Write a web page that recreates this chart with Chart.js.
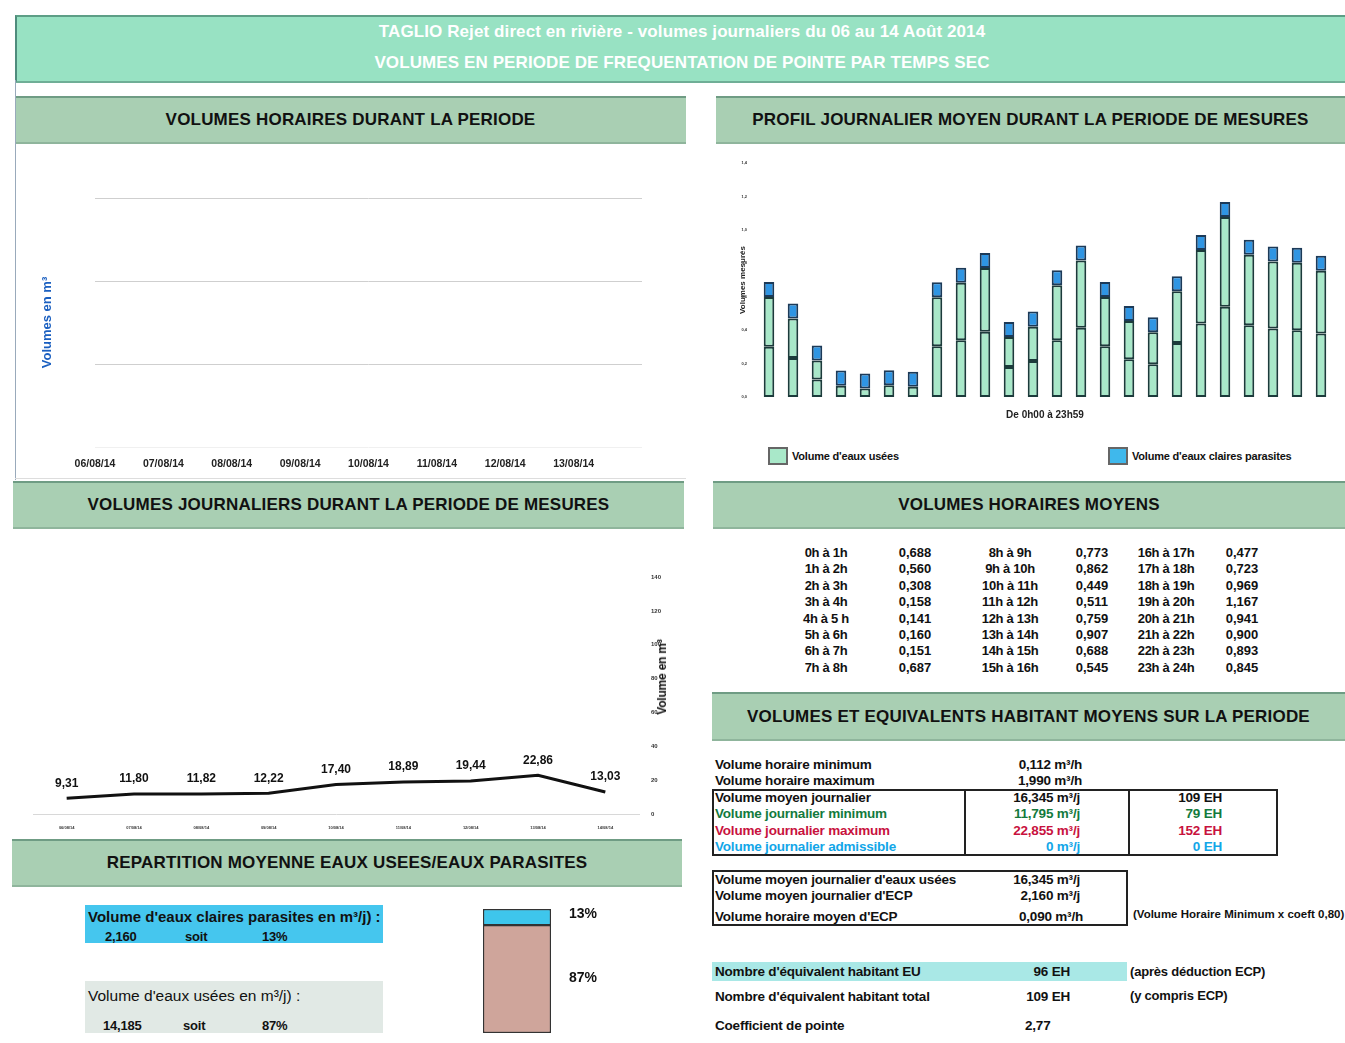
<!DOCTYPE html>
<html>
<head>
<meta charset="utf-8">
<script src="https://cdn.jsdelivr.net/npm/chart.js@4.4.0/dist/chart.umd.min.js"></script>
<style>
  body { margin: 0; width: 1345px; height: 1043px; position: relative; overflow: hidden; background: #fff;
         font-family: "Liberation Sans", Arial, sans-serif; color: #111; }
  .abs { position: absolute; }
  .banner { left: 15px; top: 15px; width: 1330px; height: 64px; background: #98e2c3;
            border-top: 2px solid #5d9e86; border-left: 2px solid #4f8c7c; border-bottom: 2px solid #6fae96; }
  .banner div { position: absolute; left: 0; width: 100%; text-align: center; color: #fff;
                font-weight: bold; font-size: 17px; letter-spacing: 0.1px; }
  .head { background: #a9cfb3; border-top: 2px solid #6f9c84; border-bottom: 2px solid #8fb59c;
          font-weight: bold; font-size: 17px; letter-spacing: 0.2px; text-align: center; color: #111; }
  .t { position: absolute; white-space: nowrap; font-weight: bold; font-size: 13.5px; letter-spacing: -0.2px;
       transform: translateY(-50%); }
  .tr { transform: translate(-100%, -50%); }
  .tc { transform: translate(-50%, -50%); }
  .box { position: absolute; border: 2px solid #222; box-sizing: border-box; }
  canvas { position: absolute; }
</style>
</head>
<body>
<div class="abs banner">
  <div style="top:5px">TAGLIO Rejet direct en rivière - volumes journaliers du 06 au 14 Août 2014</div>
  <div style="top:36px">VOLUMES EN PERIODE DE FREQUENTATION DE POINTE PAR TEMPS SEC</div>
</div>

<div class="abs head" style="left:15px;top:96px;width:671px;height:44px;line-height:44px">VOLUMES HORAIRES DURANT LA PERIODE</div>
<div class="abs head" style="left:716px;top:96px;width:629px;height:44px;line-height:44px">PROFIL JOURNALIER MOYEN DURANT LA PERIODE DE MESURES</div>
<div class="abs head" style="left:13px;top:481px;width:671px;height:44px;line-height:44px">VOLUMES JOURNALIERS DURANT LA PERIODE DE MESURES</div>
<div class="abs head" style="left:713px;top:481px;width:632px;height:44px;line-height:44px">VOLUMES HORAIRES MOYENS</div>
<div class="abs head" style="left:712px;top:692px;width:633px;height:45px;line-height:45px">VOLUMES ET EQUIVALENTS HABITANT MOYENS SUR LA PERIODE</div>
<div class="abs head" style="left:12px;top:839px;width:670px;height:44px;line-height:44px">REPARTITION MOYENNE EAUX USEES/EAUX PARASITES</div>

<div class="abs" style="left:15px;top:80px;width:1px;height:400px;background:#9ab"></div>
<div class="abs" style="left:15px;top:478px;width:671px;height:1px;background:#ddd"></div>

<canvas id="chartHoraire" style="left:20px;top:150px" width="660" height="325"></canvas>
<canvas id="chartProfil" style="left:725px;top:150px" width="620" height="280"></canvas>
<canvas id="chartJournalier" style="left:20px;top:550px" width="660" height="280"></canvas>
<canvas id="chartRepartition" style="left:475px;top:900px" width="160" height="140"></canvas>

<div id="legendProfil"></div>
<div id="tableHoraire"></div>
<div id="equivalents"></div>
<div id="repartition"></div>

<script>
// Profil journalier moyen (m3/h)
const heures = ["0h à 1h", "1h à 2h", "2h à 3h", "3h à 4h", "4h à 5 h", "5h à 6h", "6h à 7h", "7h à 8h",
  "8h à 9h", "9h à 10h", "10h à 11h", "11h à 12h", "12h à 13h", "13h à 14h", "14h à 15h", "15h à 16h",
  "16h à 17h", "17h à 18h", "18h à 19h", "19h à 20h", "20h à 21h", "21h à 22h", "22h à 23h", "23h à 24h"];
const volumeHoraireMoyen = [0.688, 0.560, 0.308, 0.158, 0.141, 0.160, 0.151, 0.687,
  0.773, 0.862, 0.449, 0.511, 0.759, 0.907, 0.688, 0.545,
  0.477, 0.723, 0.969, 1.167, 0.941, 0.900, 0.893, 0.845];
const eauxUseesBas = [0.300, 0.234, 0.104, 0.068, 0.051, 0.070, 0.061, 0.303,
  0.340, 0.390, 0.180, 0.216, 0.340, 0.415, 0.303, 0.226,
  0.196, 0.323, 0.440, 0.540, 0.430, 0.410, 0.400, 0.380];
const eauxUseesHaut = [0.298, 0.236, 0.114, 0, 0, 0, 0, 0.294,
  0.343, 0.382, 0.179, 0.205, 0.329, 0.402, 0.295, 0.229,
  0.191, 0.310, 0.439, 0.537, 0.421, 0.400, 0.403, 0.375];
const eauxClairesParasites = [0.09, 0.09, 0.09, 0.09, 0.09, 0.09, 0.09, 0.09,
  0.09, 0.09, 0.09, 0.09, 0.09, 0.09, 0.09, 0.09,
  0.09, 0.09, 0.09, 0.09, 0.09, 0.09, 0.09, 0.09];

// Volumes horaires (aucune courbe visible)
const datesHoraires = ["06/08/14", "07/08/14", "08/08/14", "09/08/14", "10/08/14", "11/08/14", "12/08/14", "13/08/14"];
const volumesHoraires = [];

// Volumes journaliers (m3/j)
const datesJournalieres = ["06/08/14", "07/08/14", "08/08/14", "09/08/14", "10/08/14", "11/08/14", "12/08/14", "13/08/14", "14/08/14"];
const volumesJournaliers = [9.31, 11.80, 11.82, 12.22, 17.40, 18.89, 19.44, 22.86, 13.03];

// Repartition eaux usees / eaux claires parasites
const repartitionLabels = ["Volume d'eaux usées", "Volume d'eaux claires parasites"];
const repartitionVolumes = [14.185, 2.160];
const repartitionPct = [87, 13];

const virgule = (v, d) => v.toFixed(d).replace(".", ",");

function txt(parent, x, y, s, extra, cls) {
  const el = document.createElement("div");
  el.className = "t " + (cls || "");
  el.style.left = x + "px";
  el.style.top = y + "px";
  if (extra) el.style.cssText += extra;
  el.innerHTML = s;
  parent.appendChild(el);
  return el;
}

// ---- Volumes horaires durant la periode ----
new Chart(document.getElementById("chartHoraire"), {
  type: "line",
  data: { datasets: [{ label: "Volumes horaires", data: volumesHoraires, borderColor: "#222" }] },
  options: {
    responsive: false, animation: false,
    layout: { padding: { left: 20, top: 48, right: 38, bottom: 0 } },
    plugins: { legend: { display: false }, tooltip: { enabled: false } },
    scales: {
      x: {
        type: "linear", min: 0, max: 8,
        ticks: { stepSize: 1, color: "#222", font: { size: 10.5, weight: "bold" }, padding: 3, maxRotation: 0,
                 callback: (v) => datesHoraires[v] || "" },
        grid: { display: false }, border: { display: false },
        afterFit: (s) => { s.height = 28; }
      },
      y: {
        min: 0, max: 3,
        ticks: { stepSize: 1, display: false },
        grid: { color: (c) => (c.tick.value === 0 ? "#f0f0f0" : "#cfcfcf"), drawTicks: false },
        border: { display: false },
        title: { display: true, text: "Volumes en m³", color: "#1a5fc0", font: { size: 13, weight: "bold" }, padding: 0 },
        afterFit: (s) => { s.width = 55; }
      }
    }
  }
});

// ---- Profil journalier moyen ----
const couleurEU = "#a9e8c9";
const couleurECP = "#2f95e3";
new Chart(document.getElementById("chartProfil"), {
  type: "bar",
  data: {
    labels: heures,
    datasets: [
      { label: "Volume d'eaux usées", data: eauxUseesBas, backgroundColor: couleurEU, borderColor: "#1c3b3b", borderWidth: 2, borderSkipped: false },
      { label: "Volume d'eaux usées ", data: eauxUseesHaut, backgroundColor: couleurEU, borderColor: "#1c3b3b", borderWidth: 2, borderSkipped: false },
      { label: "Volume d'eaux claires parasites", data: eauxClairesParasites, backgroundColor: couleurECP, borderColor: "#1c3a58", borderWidth: 2, borderSkipped: false }
    ]
  },
  options: {
    responsive: false, animation: false,
    barPercentage: 0.44, categoryPercentage: 1,
    layout: { padding: { left: 12, top: 13, right: 12, bottom: 0 } },
    plugins: { legend: { display: false }, tooltip: { enabled: false } },
    scales: {
      x: {
        stacked: true,
        ticks: { display: false }, grid: { display: false }, border: { display: false },
        title: { display: true, text: "De 0h00 à 23h59", color: "#222", font: { size: 10, weight: "bold" }, padding: { top: 4, bottom: 9 } },
        afterFit: (s) => { s.height = 33; }
      },
      y: {
        stacked: true, min: 0, max: 1.4,
        ticks: { stepSize: 0.2, color: "#333", font: { size: 4, weight: "bold" }, padding: 2, callback: (v) => virgule(v, 1) },
        grid: { display: false }, border: { display: false },
        title: { display: true, text: "Volumes mesurés", color: "#222", font: { size: 8, weight: "bold" }, padding: 1 },
        afterFit: (s) => { s.width = 20; }
      }
    }
  }
});

// legende du profil
const leg = document.getElementById("legendProfil");
[[768, couleurEU, repartitionLabels[0]], [1108, "#3fb8ec", repartitionLabels[1]]].forEach(([x, c, l]) => {
  const b = document.createElement("div");
  b.className = "abs";
  b.style.cssText = "left:" + x + "px;top:447px;width:16px;height:14px;background:" + c + ";border:2px solid #666;";
  leg.appendChild(b);
  txt(leg, x + 24, 456, l, "font-size:11px;");
});

// ---- Volumes journaliers ----
const etiquettes = {
  id: "etiquettes",
  afterDatasetsDraw(chart) {
    const ctx = chart.ctx;
    const meta = chart.getDatasetMeta(0);
    ctx.save();
    ctx.font = "bold 12px 'Liberation Sans', Arial";
    ctx.fillStyle = "#111";
    ctx.textAlign = "center";
    ctx.textBaseline = "middle";
    meta.data.forEach((p, i) => ctx.fillText(virgule(volumesJournaliers[i], 2), p.x, p.y - 15));
    ctx.restore();
  }
};
new Chart(document.getElementById("chartJournalier"), {
  type: "line",
  data: {
    labels: datesJournalieres,
    datasets: [{ label: "Volume journalier", data: volumesJournaliers, borderColor: "#111", borderWidth: 3, pointRadius: 0, tension: 0 }]
  },
  options: {
    responsive: false, animation: false,
    layout: { padding: { left: 13, top: 27, right: 19, bottom: 0 } },
    plugins: { legend: { display: false }, tooltip: { enabled: false } },
    scales: {
      x: {
        offset: true,
        ticks: { color: "#333", font: { size: 4, weight: "bold" }, padding: 3, maxRotation: 0 },
        grid: { display: false, offset: true }, border: { color: "#d8d8d8" },
        afterFit: (s) => { s.height = 16; }
      },
      y: {
        position: "right", min: 0, max: 140,
        ticks: { stepSize: 20, color: "#333", font: { size: 6, weight: "bold" }, padding: 4 },
        grid: { display: false }, border: { display: false },
        afterFit: (s) => { s.width = 22; }
      }
    }
  },
  plugins: [etiquettes]
});
txt(document.body, 662, 677, "Volume en m³", "font-size:12px;transform:translate(-50%,-50%) rotate(-90deg);");

// ---- Repartition ----
const pctLabels = {
  id: "pctLabels",
  afterDatasetsDraw(chart) {
    const ctx = chart.ctx;
    ctx.save();
    ctx.font = "bold 14px 'Liberation Sans', Arial";
    ctx.fillStyle = "#111";
    ctx.textBaseline = "middle";
    chart.data.datasets.forEach((ds, i) => {
      const bar = chart.getDatasetMeta(i).data[0];
      const milieu = (bar.y + bar.base) / 2 + (i === 1 ? -3 : -1);
      ctx.fillText(ds.data[0] + "%", bar.x + bar.width / 2 + 18, milieu);
    });
    ctx.restore();
  }
};
new Chart(document.getElementById("chartRepartition"), {
  type: "bar",
  data: {
    labels: ["Moyenne"],
    datasets: [
      { label: repartitionLabels[0], data: [repartitionPct[0]], backgroundColor: "#cfa59b", borderColor: "#333", borderWidth: 1.5, borderSkipped: false },
      { label: repartitionLabels[1], data: [repartitionPct[1]], backgroundColor: "#3ec6ec", borderColor: "#333", borderWidth: 1.5, borderSkipped: false }
    ]
  },
  options: {
    responsive: false, animation: false,
    barPercentage: 1, categoryPercentage: 1,
    layout: { padding: { left: 8, top: 9, right: 84, bottom: 7 } },
    plugins: { legend: { display: false }, tooltip: { enabled: false } },
    scales: {
      x: { stacked: true, display: false },
      y: { stacked: true, display: false, min: 0, max: 100 }
    }
  },
  plugins: [pctLabels]
});

const rep = document.getElementById("repartition");
const boxECP = document.createElement("div");
boxECP.className = "abs";
boxECP.style.cssText = "left:85px;top:905px;width:298px;height:38px;background:#45c6ee;";
rep.appendChild(boxECP);
const boxEU = document.createElement("div");
boxEU.className = "abs";
boxEU.style.cssText = "left:85px;top:981px;width:298px;height:52px;background:#e1e9e5;";
rep.appendChild(boxEU);
txt(rep, 88, 916, "Volume d'eaux claires parasites en m³/j) :", "font-size:15px;letter-spacing:0;");
txt(rep, 105, 936, virgule(repartitionVolumes[1], 3), "font-size:13px;");
txt(rep, 185, 936, "soit", "font-size:13px;");
txt(rep, 262, 936, repartitionPct[1] + "%", "font-size:13px;");
txt(rep, 88, 996, "Volume d'eaux usées en m³/j) :", "font-size:15.5px;font-weight:normal;letter-spacing:0;");
txt(rep, 103, 1025, virgule(repartitionVolumes[0], 3), "font-size:13px;");
txt(rep, 183, 1025, "soit", "font-size:13px;");
txt(rep, 262, 1025, repartitionPct[0] + "%", "font-size:13px;");

// ---- Tableau volumes horaires moyens ----
const tab = document.getElementById("tableHoraire");
const colLabel = [826, 1010, 1166];
const colValeur = [915, 1092, 1242];
heures.forEach((h, i) => {
  const g = Math.floor(i / 8), r = i % 8;
  const y = 552 + r * 16.4;
  txt(tab, colLabel[g], y, h, "font-size:13px;letter-spacing:-0.3px;", "tc");
  txt(tab, colValeur[g], y, virgule(volumeHoraireMoyen[i], 3), "font-size:13px;letter-spacing:0;", "tc");
});

// ---- Volumes et equivalents habitant ----
const eq = document.getElementById("equivalents");
txt(eq, 715, 764, "Volume horaire minimum");
txt(eq, 1082, 764, "0,112 m³/h", "", "tr");
txt(eq, 715, 780, "Volume horaire maximum");
txt(eq, 1082, 780, "1,990 m³/h", "", "tr");

const b1 = document.createElement("div");
b1.className = "box";
b1.style.cssText = "left:712px;top:789px;width:566px;height:67px;";
eq.appendChild(b1);
[964, 1128].forEach((x) => {
  const d = document.createElement("div");
  d.className = "abs";
  d.style.cssText = "left:" + x + "px;top:789px;width:2px;height:67px;background:#222;";
  eq.appendChild(d);
});
const lignes = [
  ["Volume moyen journalier", "16,345 m³/j", "109 EH", "#111"],
  ["Volume journalier minimum", "11,795 m³/j", "79 EH", "#137a3d"],
  ["Volume journalier maximum", "22,855 m³/j", "152 EH", "#c8123e"],
  ["Volume journalier admissible", "0 m³/j", "0 EH", "#12a6e8"]
];
lignes.forEach(([l, v, e, c], i) => {
  const y = 797 + i * 16.3;
  txt(eq, 715, y, l, "color:" + c + ";");
  txt(eq, 1080, y, v, "color:" + c + ";", "tr");
  txt(eq, 1222, y, e, "color:" + c + ";", "tr");
});

const b2 = document.createElement("div");
b2.className = "box";
b2.style.cssText = "left:712px;top:870px;width:416px;height:56px;";
eq.appendChild(b2);
txt(eq, 715, 879, "Volume moyen journalier d'eaux usées");
txt(eq, 1080, 879, "16,345 m³/j", "", "tr");
txt(eq, 715, 895, "Volume moyen journalier d'ECP");
txt(eq, 1080, 895, "2,160 m³/j", "", "tr");
txt(eq, 715, 916, "Volume horaire moyen d'ECP");
txt(eq, 1083, 916, "0,090 m³/h", "", "tr");
txt(eq, 1133, 914, "(Volume Horaire Minimum x coeft 0,80)", "font-size:11.5px;letter-spacing:0;");

const bEU = document.createElement("div");
bEU.className = "abs";
bEU.style.cssText = "left:712px;top:962px;width:415px;height:19px;background:#a9e8e6;";
eq.appendChild(bEU);
txt(eq, 715, 971, "Nombre d'équivalent habitant EU");
txt(eq, 1070, 971, "96 EH", "", "tr");
txt(eq, 1130, 971, "(après déduction ECP)", "font-size:13px;");
txt(eq, 715, 996, "Nombre d'équivalent habitant total");
txt(eq, 1070, 996, "109 EH", "", "tr");
txt(eq, 1130, 995, "(y compris ECP)", "font-size:13px;");
txt(eq, 715, 1025, "Coefficient de pointe");
txt(eq, 1025, 1025, "2,77");
</script>
</body>
</html>
